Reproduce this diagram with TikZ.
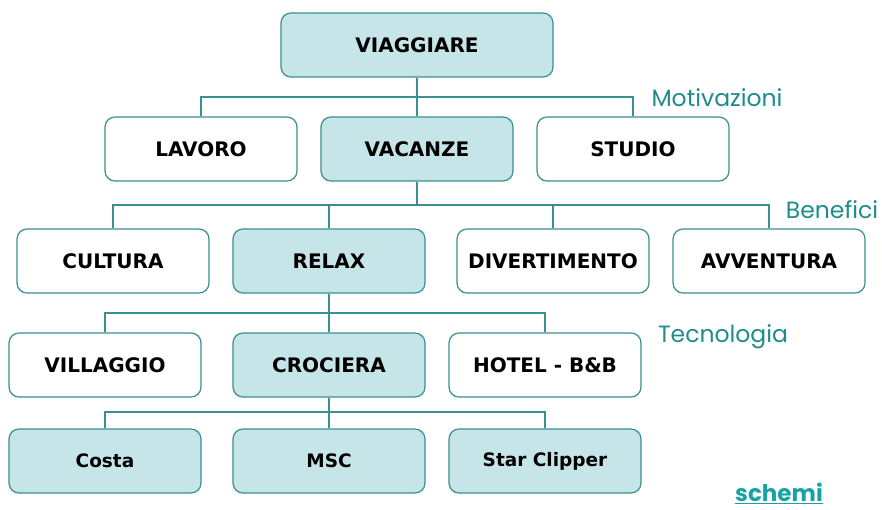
\documentclass[tikz,border=0pt]{standalone}
\usepackage{fontspec}
\setmainfont{DejaVu Sans}
\newfontfamily\tagfont{Poppins}
\definecolor{tealline}{HTML}{3A8F8F}
\definecolor{boxfill}{HTML}{C6E5E8}
\definecolor{tagcol}{HTML}{1F8C8C}
\definecolor{linkcol}{HTML}{17A3A6}
\begin{document}
\begin{tikzpicture}[x=1pt,y=-1pt,
  box/.style={draw=tealline, line width=1.2pt, rounded corners=10pt,
    minimum width=192pt, minimum height=64pt, inner sep=0pt,
    fill=white, font=\bfseries\fontsize{20}{20}\selectfont},
  hl/.style={box, fill=boxfill},
  small/.style={font=\bfseries\fontsize{18.5}{18.5}\selectfont},
  link/.style={draw=tealline, line width=1.3pt},
  tag/.style={text=tagcol, font=\tagfont\fontsize{23.5}{23.5}\selectfont, inner sep=0pt}]
\useasboundingbox (0,0) rectangle (882,510);

% level 1
\node[hl, minimum width=272pt] (viag) at (417,45) {VIAGGIARE};

% level 2: motivazioni
\node[box] (lav) at (201,149) {LAVORO};
\node[hl]  (vac) at (417,149) {VACANZE};
\node[box] (stu) at (633,149) {STUDIO};

% level 3: benefici
\node[box] (cul) at (113,261) {CULTURA};
\node[hl]  (rel) at (329,261) {RELAX};
\node[box] (div) at (553,261) {DIVERTIMENTO};
\node[box] (avv) at (769,261) {AVVENTURA};

% level 4: tecnologia
\node[box] (vil) at (105,365) {VILLAGGIO};
\node[hl]  (cro) at (329,365) {CROCIERA};
\node[box] (hot) at (545,365) {HOTEL - B\&B};

% level 5
\node[hl, small] (cos) at (105,461) {Costa};
\node[hl, small] (msc) at (329,461) {MSC};
\node[hl, small] (sta) at (545,461) {Star Clipper};

% junction heights
\coordinate (j1) at (417,97);
\coordinate (j2) at (417,205);
\coordinate (j3) at (329,313);
\coordinate (j4) at (329,412);

% connectors
\draw[link] (viag.south) -- (vac.north);
\draw[link] (lav.north) -- (lav.north |- j1) -- (stu.north |- j1) -- (stu.north);

\draw[link] (vac.south) -- (vac.south |- j2);
\draw[link] (cul.north) -- (cul.north |- j2) -- (avv.north |- j2) -- (avv.north);
\draw[link] (rel.north) -- (rel.north |- j2);
\draw[link] (div.north) -- (div.north |- j2);

\draw[link] (rel.south) -- (cro.north);
\draw[link] (vil.north) -- (vil.north |- j3) -- (hot.north |- j3) -- (hot.north);

\draw[link] (cro.south) -- (msc.north);
\draw[link] (cos.north) -- (cos.north |- j4) -- (sta.north |- j4) -- (sta.north);

% level tags
\node[tag] (tmot) at (717,98) {Motivazioni};
\node[tag] (tben) at (832,210) {Benefici};
\node[tag] (ttec) at (723,337) {Tecnologia};
\node[text=linkcol, inner sep=0pt, font=\tagfont\bfseries\fontsize{23}{23}\selectfont] (sch) at (779,493) {\underline{schemi}};
\end{tikzpicture}
\end{document}
